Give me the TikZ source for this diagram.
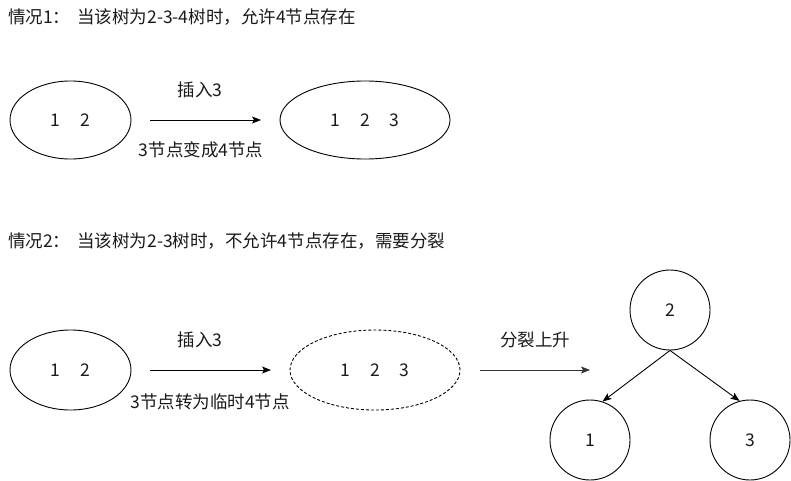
\documentclass[tikz,border=0pt]{standalone}
\usepackage{fontspec}
\setmainfont{Noto Sans CJK SC}
\usetikzlibrary{shapes.geometric,arrows.meta}
\definecolor{txt}{HTML}{1A1A1A}
\tikzset{
  every node/.style={text=txt, font=\fontsize{17.5pt}{20pt}\selectfont},
  oval/.style={ellipse, draw=black, line width=0.9pt, inner sep=0pt},
  ring/.style={circle, draw=black, line width=0.9pt, minimum size=80pt, inner sep=0pt},
  conn/.style={line width=0.9pt, -{Stealth[length=9pt,width=7pt,inset=2pt]}},
  title/.style={anchor=west, inner sep=0pt},
  lbl/.style={inner sep=0pt}
}
\begin{document}
\begin{tikzpicture}[x=1pt,y=-1pt]
\useasboundingbox (0,0) rectangle (791,481);
% row 1
\node[title] (t1) at (8,17) {情况1：\hspace{7pt}当该树为2-3-4树时，允许4节点存在};
\node[oval, minimum width=121pt, minimum height=78pt] (e1) at (70.5,120) {1\hspace{20pt}2};
\node[oval, minimum width=170pt, minimum height=78pt] (e2) at (365,120) {1\hspace{20pt}2\hspace{20pt}3};
\coordinate (a1s) at (150,120);
\coordinate (a1e) at (261,120);
\draw[conn] (a1s) -- (a1e);
\node[lbl] (l1a) at (200,90) {插入3};
\node[lbl] (l1b) at (201,150) {3节点变成4节点};
% row 2
\node[title] (t2) at (8,241) {情况2：\hspace{7pt}当该树为2-3树时，不允许4节点存在，需要分裂};
\node[oval, minimum width=121pt, minimum height=80pt] (e3) at (70.5,370) {1\hspace{20pt}2};
\node[oval, dashed, dash pattern=on 3pt off 2pt, minimum width=170pt, minimum height=80pt] (e4) at (375,370) {1\hspace{20pt}2\hspace{20pt}3};
\coordinate (a2s) at (150,370);
\coordinate (a2e) at (271,370);
\draw[conn] (a2s) -- (a2e);
\node[lbl] (l2a) at (200,340) {插入3};
\node[lbl] (l2b) at (210,402) {3节点转为临时4节点};
\coordinate (a3s) at (480,370);
\coordinate (a3e) at (590,370);
\draw[conn, draw=black!80, fill=black!80] (a3s) -- (a3e);
\node[lbl] (l3) at (535,340) {分裂上升};
\node[ring] (n2) at (670,310) {2};
\node[ring] (n1) at (590,440) {1};
\node[ring] (n3) at (750,440) {3};
\draw[conn] (n2.south) -- (n1.72);
\draw[conn] (n2.south) -- (n3.105);
\end{tikzpicture}
\end{document}
